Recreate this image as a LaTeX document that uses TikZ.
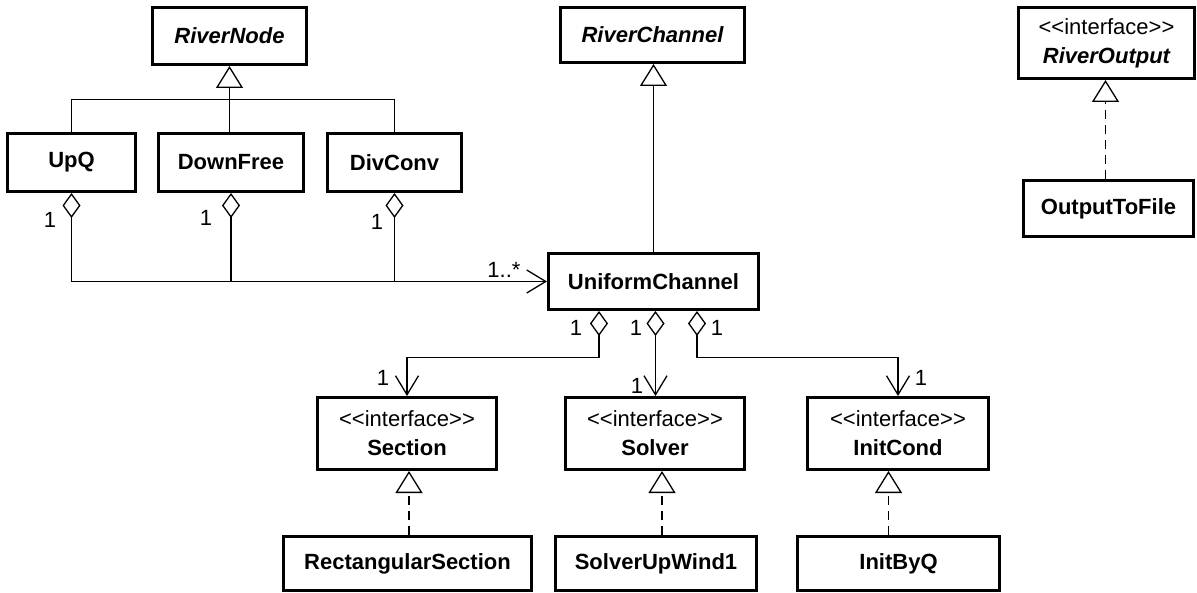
\documentclass[tikz,border=0pt]{standalone}
\usepackage{fontspec}
\setmainfont{Liberation Sans}
\usetikzlibrary{arrows.meta,calc}

\newcommand{\stereotype}[1]{{\mdseries\fontsize{22}{22}\selectfont <{}<#1>{}>}}

\begin{document}
\begin{tikzpicture}[x=1pt,y=-1pt,
  cls/.style={draw, line width=3pt, inner sep=0pt,
    font=\fontsize{22}{29}\selectfont\bfseries, align=center},
  mult/.style={inner sep=0pt, font=\fontsize{22}{22}\selectfont},
  conn/.style={line width=1.3pt},
  gen/.style={conn, -{Triangle[open, length=22pt, width=27pt, line width=1.3pt]}},
  real/.style={line width=1.6pt, dash pattern=on 9pt off 6pt,
    -{Triangle[open, length=22pt, width=27pt, line width=1.3pt]}},
  agg/.style={conn, {Diamond[open, length=25pt, width=18pt, line width=1.3pt]}-},
  aggnav/.style={conn, {Diamond[open, length=25pt, width=18pt, line width=1.3pt]}-{Straight Barb[length=19pt, width=23pt, line width=1.3pt]}}
]
\useasboundingbox (0,0) rectangle (1197,593);

% abstract base classes
\node[cls, minimum width=154pt, minimum height=57pt] (rn) at (229.5,36) {\itshape RiverNode};
\node[cls, minimum width=184pt, minimum height=55pt] (rc) at (652.5,35) {\itshape RiverChannel};
\node[cls, minimum width=176pt, minimum height=71pt] (ro) at (1106.5,43)
  {\stereotype{interface}\\\itshape RiverOutput};

% river nodes
\node[cls, minimum width=128pt, minimum height=58pt] (upq) at (71.5,162.5) {UpQ};
\node[cls, minimum width=145pt, minimum height=58pt] (dfree) at (231,162.5) {DownFree};
\node[cls, minimum width=134pt, minimum height=58pt] (divc) at (394.5,162.5) {DivConv};

\node[cls, minimum width=170pt, minimum height=56pt] (otf) at (1108.5,208.5) {OutputToFile};

% channel
\node[cls, minimum width=210pt, minimum height=56pt] (uc) at (653.5,281.5) {UniformChannel};

% interfaces
\node[cls, minimum width=179pt, minimum height=72pt] (sec) at (407,433.5)
  {\stereotype{interface}\\Section};
\node[cls, minimum width=179pt, minimum height=72pt] (sol) at (655,433.5)
  {\stereotype{interface}\\Solver};
\node[cls, minimum width=181pt, minimum height=72pt] (ic) at (898,433.5)
  {\stereotype{interface}\\InitCond};

% implementations
\node[cls, minimum width=248pt, minimum height=54pt] (rsec) at (407.5,563.5) {RectangularSection};
\node[cls, minimum width=201pt, minimum height=54pt] (suw) at (656,563.5) {SolverUpWind1};
\node[cls, minimum width=202pt, minimum height=54pt] (ibq) at (898.5,563.5) {InitByQ};

% helper levels for the bent connectors
\coordinate (bar) at (0,99.5);
\coordinate (bend) at (0,357.5);

% inheritance of the river nodes
\draw[conn] (upq.north) -- (upq.north |- bar) -- (divc.north |- bar) -- (divc.north);
\draw[gen] (dfree.north -| rn.south) -- (rn.south);

% inheritance of the channel
\draw[gen] (uc.north) -- (uc.north |- rc.south);

% output realization
\draw[real] ([xshift=-3pt]otf.north) -- ([xshift=-3pt]otf.north |- ro.south);

% aggregation of channels by the nodes
\draw[aggnav] (upq.south) |- (uc.west);
\draw[agg] (dfree.south) -- (dfree.south |- uc.west);
\draw[agg] (divc.south) -- (divc.south |- uc.west);

% aggregation of section, solver and initial condition
\draw[aggnav] ([xshift=-54.5pt]uc.south) -- ([xshift=-54.5pt]uc.south |- bend) -| (sec.north);
\draw[aggnav] ([xshift=2pt]uc.south) -- ([xshift=2pt]uc.south |- sol.north);
\draw[aggnav] ([xshift=43.5pt]uc.south) -- ([xshift=43.5pt]uc.south |- bend) -| (ic.north);

% realizations of the interfaces
\draw[real] ([xshift=1.5pt]rsec.north) -- ([xshift=1.5pt]rsec.north |- sec.south);
\draw[real] ([xshift=6pt]suw.north) -- ([xshift=6pt]suw.north |- sol.south);
\draw[real] ([xshift=-10pt]ibq.north) -- ([xshift=-10pt]ibq.north |- ic.south);

% multiplicities
\node[mult] (m1) at (50,220) {1};
\node[mult] (m2) at (206,218) {1};
\node[mult] (m3) at (377,222) {1};
\node[mult] (m4) at (504,270) {1..*};
\node[mult] (m5) at (576,328) {1};
\node[mult] (m6) at (636,328) {1};
\node[mult] (m7) at (717,328) {1};
\node[mult] (m8) at (383,378) {1};
\node[mult] (m9) at (637,386) {1};
\node[mult] (m10) at (921,378) {1};
\end{tikzpicture}
\end{document}
